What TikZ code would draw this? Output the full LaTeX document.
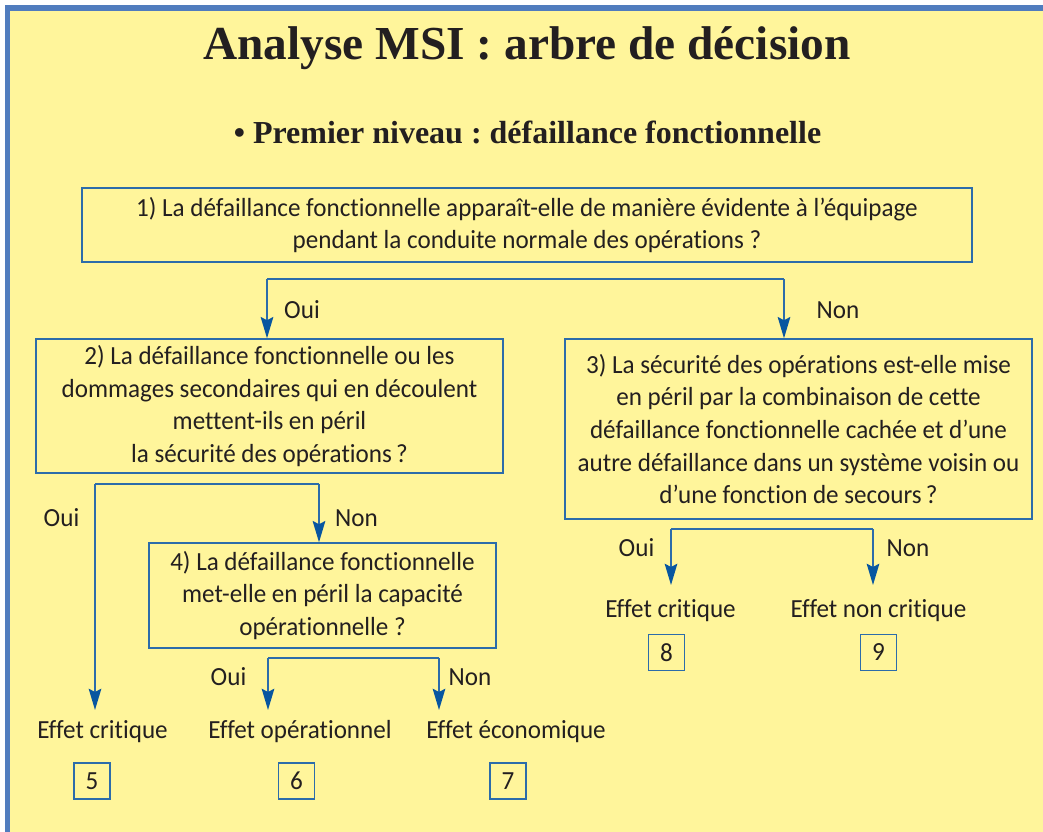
\documentclass[tikz,border=0pt]{standalone}
\usepackage{fontspec}
\setmainfont{Carlito}[Ligatures=NoCommon,FakeStretch=0.96]
\newfontfamily\titlefont{Liberation Serif}
\usetikzlibrary{arrows.meta}
\definecolor{fond}{RGB}{255,245,155}
\definecolor{cadre}{RGB}{80,124,190}
\definecolor{trait}{RGB}{44,108,170}
\definecolor{pointe}{RGB}{8,86,160}
\definecolor{encre}{RGB}{35,31,32}
\tikzset{
  texte/.style={text=encre,font=\fontsize{19.6}{24.4}\selectfont},
  question/.style={texte,draw=trait,line width=1.1pt,align=center,inner sep=0pt},
  numero/.style={texte,draw=trait,line width=1.1pt,minimum size=27pt,inner sep=0pt},
  reponse/.style={texte,anchor=base,inner sep=0pt},
  branche/.style={draw=trait,line width=1.1pt},
  fleche/.style={branche,-{Stealth[length=16pt,width=9.5pt,inset=2.5pt,color=pointe]}},
}
\frenchspacing

\begin{document}
\begin{tikzpicture}[x=0.75pt,y=-0.75pt]
        \useasboundingbox (0,0) rectangle (1043,832);
        \clip (0,0) rectangle (1043,832);
        \fill[white] (0,0) rectangle (1043,832);
        \draw[cadre,line width=4pt,fill=fond] (7.6,8) rectangle (1080,870);

        \node[anchor=base,text=encre,font=\titlefont\bfseries\fontsize{35.5}{40}\selectfont] (titre) at (527,59) {Analyse MSI : arbre de décision};
        \node[anchor=base,text=encre,font=\titlefont\bfseries\fontsize{24}{28}\selectfont] (niveau) at (527.5,143) {• Premier niveau : défaillance fonctionnelle};

        \node[question,minimum width=667.5pt,minimum height=55.5pt] (q1) at (527,225)
          {1) La défaillance fonctionnelle apparaît-elle de manière évidente à l’équipage\\pendant la conduite normale des opérations ?};
        \node[question,minimum width=350.25pt,minimum height=100.5pt] (q2) at (269.5,406)
          {2) La défaillance fonctionnelle ou les\\dommages secondaires qui en découlent\\mettent-ils en péril\\la sécurité des opérations\,?};
        \node[question,minimum width=350.25pt,minimum height=135pt] (q3) at (798.5,429)
          {3) La sécurité des opérations est-elle mise\\en péril par la combinaison de cette\\défaillance fonctionnelle cachée et d’une\\autre défaillance dans un système voisin ou\\d’une fonction de secours\,?};
        \node[question,minimum width=260.25pt,minimum height=78.75pt] (q4) at (322.5,595.5)
          {4) La défaillance fonctionnelle\\met-elle en péril la capacité\\opérationnelle ?};

        \coordinate (f1g) at (267,279);
        \coordinate (f1d) at (784,279);
        \draw[branche] (f1g) -- (f1d);
        \draw[fleche] (f1g) -- (f1g |- q2.north);
        \draw[fleche] (f1d) -- (f1d |- q3.north);
        \node[reponse] (oui1) at (302,318) {Oui};
        \node[reponse] (non1) at (838,318) {Non};

        \coordinate (f2g) at (95,484);
        \coordinate (f2d) at (319,484);
        \coordinate (c5) at (95,710);
        \draw[branche] (f2g) -- (f2d);
        \draw[fleche] (f2g) -- (c5);
        \draw[fleche] (f2d) -- (f2d |- q4.north);
        \node[reponse] (oui2) at (61.5,526) {Oui};
        \node[reponse] (non2) at (356.5,526) {Non};

        \coordinate (f4g) at (268,658);
        \coordinate (f4d) at (439,658);
        \coordinate (c6) at (268,710);
        \coordinate (c7) at (439,710);
        \draw[branche] (f4g) -- (f4d);
        \draw[fleche] (f4g) -- (c6);
        \draw[fleche] (f4d) -- (c7);
        \node[reponse] (oui4) at (228.5,685) {Oui};
        \node[reponse] (non4) at (470,685) {Non};

        \coordinate (f3g) at (671,529);
        \coordinate (f3d) at (873,529);
        \coordinate (c8) at (671,585);
        \coordinate (c9) at (873,585);
        \draw[branche] (f3g) -- (f3d);
        \draw[fleche] (f3g) -- (c8);
        \draw[fleche] (f3d) -- (c9);
        \node[reponse] (oui3) at (636.5,556) {Oui};
        \node[reponse] (non3) at (908,556) {Non};

        \node[reponse] (e5) at (102.5,738) {Effet critique};
        \node[reponse] (e6) at (300,738) {Effet opérationnel};
        \node[reponse] (e7) at (516,738) {Effet économique};
        \node[reponse] (e8) at (670.5,617) {Effet critique};
        \node[reponse] (e9) at (878.5,617) {Effet non critique};

        \node[numero] (n5) at (92,781) {5};
        \node[numero] (n6) at (296.5,781) {6};
        \node[numero] (n7) at (508,781) {7};
        \node[numero] (n8) at (666.5,652.5) {8};
        \node[numero] (n9) at (878.5,652.5) {9};
      \end{tikzpicture}
\end{document}
